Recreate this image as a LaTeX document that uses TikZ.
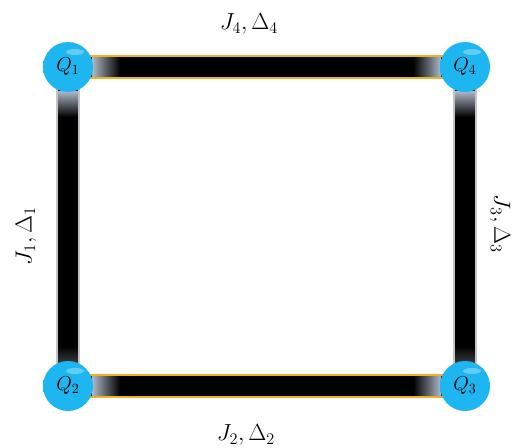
\documentclass[tikz,border=0pt]{standalone}
\usetikzlibrary{calc,backgrounds}
\definecolor{qcyan}{RGB}{30,182,240}
\definecolor{qedge}{RGB}{240,176,40}
\definecolor{vedge}{RGB}{195,195,200}
\definecolor{qfade}{RGB}{175,185,200}
\pgfdeclareradialshading{qsphere}{\pgfpoint{0bp}{0bp}}{color(0bp)=(qcyan); color(36bp)=(qcyan); color(45bp)=(qcyan!80!white); color(50bp)=(qcyan!45!white)}
\newcommand{\qtext}[1]{\scalebox{1.4}{$Q_{#1}$}}
\tikzset{
  qball/.style={circle, minimum size=50pt, inner sep=0pt, shading=qsphere,
    font=\Large,
    path picture={\fill[white,opacity=0.3,rotate=-35] ([shift={(7,-15)}]path picture bounding box.center) ellipse (9pt and 3pt);}},
  lbl/.style={font=\LARGE, inner sep=1pt, scale=1.35},
  hedge/.style={qedge, line width=1.5pt},
  vedgeline/.style={vedge, line width=1.5pt},
}
\begin{document}
\begin{tikzpicture}[x=1pt,y=-1pt]
\useasboundingbox (0,0) rectangle (516,447);
\node[qball] (q1) at (68,67) {\qtext{1}};
\node[qball] (q4) at (465,67) {\qtext{4}};
\node[qball] (q2) at (68,386) {\qtext{2}};
\node[qball] (q3) at (465,386) {\qtext{3}};
\begin{scope}[on background layer]
% top bar
\fill[black] ($(q1.center)+(0,-11)$) rectangle ($(q4.center)+(0,11)$);
\shade[left color=qfade, right color=black] ($(q1.center)+(24,-11)$) rectangle ($(q1.center)+(52,11)$);
\shade[left color=black, right color=qfade] ($(q4.center)+(-52,-11)$) rectangle ($(q4.center)+(-24,11)$);
\draw[hedge] ($(q1.center)+(20,-11)$) -- ($(q4.center)+(-20,-11)$);
\draw[hedge] ($(q1.center)+(20,11)$) -- ($(q4.center)+(-20,11)$);
% bottom bar
\fill[black] ($(q2.center)+(0,-11)$) rectangle ($(q3.center)+(0,11)$);
\shade[left color=qfade, right color=black] ($(q2.center)+(24,-11)$) rectangle ($(q2.center)+(52,11)$);
\shade[left color=black, right color=qfade] ($(q3.center)+(-52,-11)$) rectangle ($(q3.center)+(-24,11)$);
\draw[hedge] ($(q2.center)+(20,-11)$) -- ($(q3.center)+(-20,-11)$);
\draw[hedge] ($(q2.center)+(20,11)$) -- ($(q3.center)+(-20,11)$);
% left bar
\fill[black] ($(q1.center)+(-11,0)$) rectangle ($(q2.center)+(11,0)$);
\shade[top color=qfade, bottom color=black] ($(q1.center)+(-11,24)$) rectangle ($(q1.center)+(11,50)$);
\shade[top color=black, bottom color=black!70!qfade] ($(q2.center)+(-11,-40)$) rectangle ($(q2.center)+(11,-24)$);
\draw[vedgeline] ($(q1.center)+(-11,20)$) -- ($(q2.center)+(-11,-20)$);
\draw[vedgeline] ($(q1.center)+(11,20)$) -- ($(q2.center)+(11,-20)$);
% right bar
\fill[black] ($(q4.center)+(-11,0)$) rectangle ($(q3.center)+(11,0)$);
\shade[top color=qfade, bottom color=black] ($(q4.center)+(-11,24)$) rectangle ($(q4.center)+(11,50)$);
\shade[top color=black, bottom color=black!70!qfade] ($(q3.center)+(-11,-40)$) rectangle ($(q3.center)+(11,-24)$);
\draw[vedgeline] ($(q4.center)+(-11,20)$) -- ($(q3.center)+(-11,-20)$);
\draw[vedgeline] ($(q4.center)+(11,20)$) -- ($(q3.center)+(11,-20)$);
\end{scope}
\node[lbl] (l4) at (249,24) {$J_4, \Delta_4$};
\node[lbl] (l2) at (246,435) {$J_2, \Delta_2$};
\node[lbl, rotate=90] (l1) at (26,236) {$J_1, \Delta_1$};
\node[lbl, rotate=-90] (l3) at (500,224) {$J_3, \Delta_3$};
\end{tikzpicture}
\end{document}
